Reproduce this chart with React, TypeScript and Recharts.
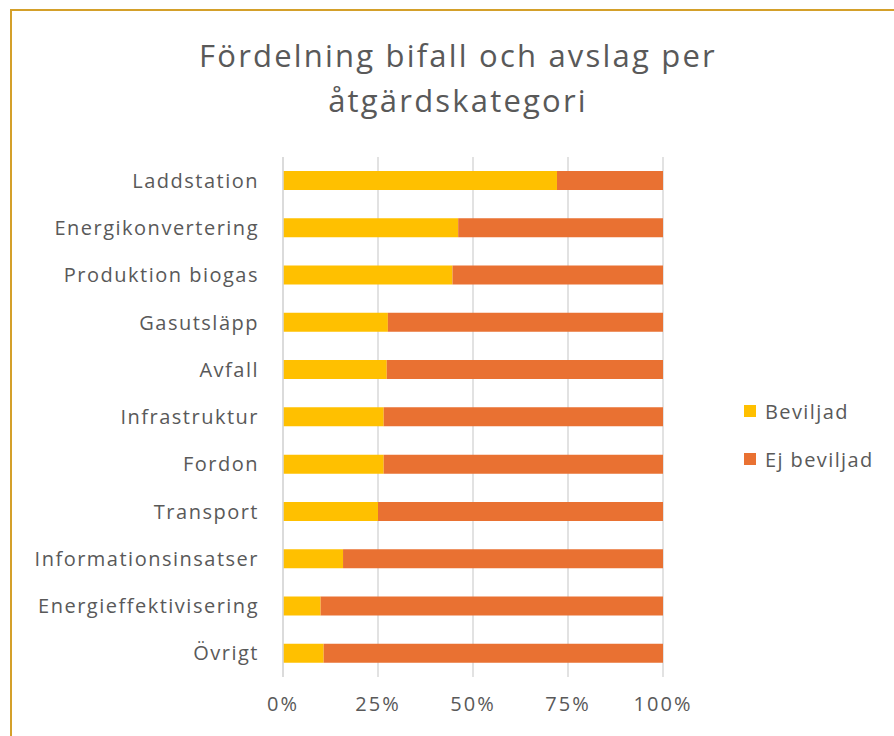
import React from 'react';
import { Bar, BarChart, CartesianGrid, XAxis, YAxis } from 'recharts';

const categories = [
  'Laddstation',
  'Energikonvertering',
  'Produktion biogas',
  'Gasutsläpp',
  'Avfall',
  'Infrastruktur',
  'Fordon',
  'Transport',
  'Informationsinsatser',
  'Energieffektivisering',
  'Övrigt',
];

// share of applications, percent
const beviljad = [72.1, 46.1, 44.6, 27.6, 27.3, 26.5, 26.5, 25.0, 15.8, 9.9, 10.7];
const ejBeviljad = [27.9, 53.9, 55.4, 72.4, 72.7, 73.5, 73.5, 75.0, 84.2, 90.1, 89.3];

const xTicks = [0, 25, 50, 75, 100];

const FONT = '"Open Sans", sans-serif';
const TEXT = '#595959';
const YELLOW = '#FFC000';
const ORANGE = '#E97132';

const data = categories.map((name, i) => ({
  name,
  beviljad: beviljad[i],
  ejBeviljad: ejBeviljad[i],
}));

function LegendBox() {
  const items = [
    { label: 'Beviljad', color: YELLOW },
    { label: 'Ej beviljad', color: ORANGE },
  ];
  return (
    <div
      style={{
        position: 'absolute',
        left: 744,
        top: 387,
        fontFamily: FONT,
        fontSize: 20,
        letterSpacing: 1.4,
        color: TEXT,
      }}
    >
      {items.map((it) => (
        <div key={it.label} style={{ display: 'flex', alignItems: 'center', height: 48 }}>
          <span style={{ width: 12, height: 12, background: it.color, marginRight: 9 }} />
          <span>{it.label}</span>
        </div>
      ))}
    </div>
  );
}

export default function App() {
  return (
    <div style={{ position: 'fixed', left: 0, top: 0, width: 894, height: 736, background: '#fff', overflow: 'hidden' }}>
      <div
        style={{
          position: 'absolute',
          left: 10,
          top: 9,
          width: 900,
          height: 740,
          border: '2px solid #D4A02A',
          boxSizing: 'border-box',
        }}
      />
      <div
        style={{
          position: 'absolute',
          left: 0,
          top: 33,
          width: 916,
          textAlign: 'center',
          fontFamily: FONT,
          fontSize: 31,
          letterSpacing: 2.2,
          lineHeight: '45px',
          color: TEXT,
        }}
      >
        Fördelning bifall och avslag per
        <br />
        åtgärdskategori
      </div>
      <div style={{ position: 'absolute', left: 0, top: 0 }}>
        <BarChart
          width={894}
          height={736}
          data={data}
          layout="vertical"
          barSize={19}
          margin={{ top: 157, right: 231, bottom: 0, left: 13 }}
        >
          <CartesianGrid horizontal={false} stroke="#D9D9D9" strokeWidth={1.5} />
          <XAxis
            type="number"
            domain={[0, 100]}
            ticks={xTicks}
            tickFormatter={(v: number) => `${v}%`}
            axisLine={false}
            tickLine={false}
            tickSize={0}
            tickMargin={20}
            height={59}
            tick={{ fontFamily: FONT, fontSize: 20, fill: TEXT, letterSpacing: 2 }}
          />
          <YAxis
            type="category"
            dataKey="name"
            width={270}
            axisLine={{ stroke: '#D9D9D9', strokeWidth: 1.5 }}
            tickLine={false}
            tickSize={0}
            tickMargin={24}
            tick={{ fontFamily: FONT, fontSize: 20, fill: TEXT, letterSpacing: 1.5 }}
          />
          <Bar dataKey="beviljad" stackId="a" fill={YELLOW} isAnimationActive={false} />
          <Bar dataKey="ejBeviljad" stackId="a" fill={ORANGE} isAnimationActive={false} />
        </BarChart>
      </div>
      <LegendBox />
    </div>
  );
}
